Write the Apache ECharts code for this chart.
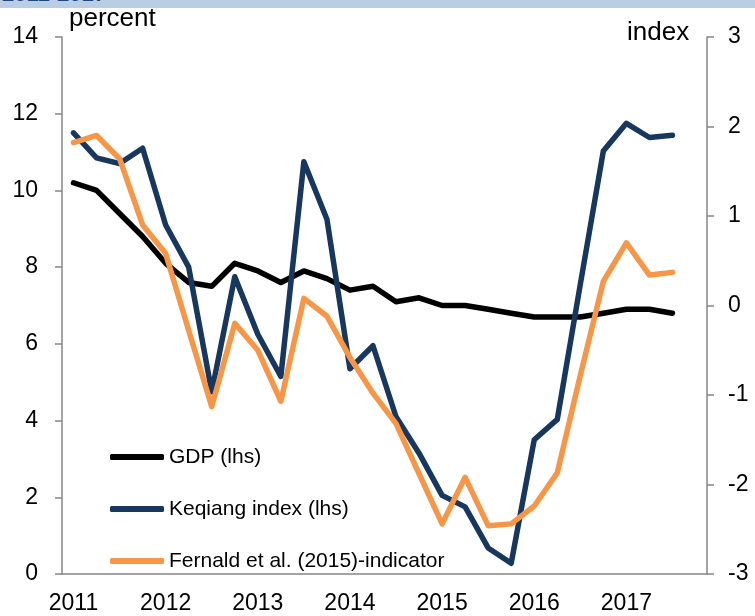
<!DOCTYPE html>
<html>
<head>
<meta charset="utf-8">
<script src="https://cdn.jsdelivr.net/npm/echarts@6/dist/echarts.min.js"></script>
<style>
  html, body { margin: 0; padding: 0; background: #fff; }
  #band { position: absolute; left: 0; top: 0; width: 755px; height: 8px; background: #b9cde5; overflow: hidden; z-index: 2; }
  #band span { position: absolute; left: 2px; top: -19px; font: bold 22px "Liberation Sans", Arial, sans-serif; color: #1f497d; }
  #chart { width: 755px; height: 616px; }
</style>
</head>
<body>
<div id="band"><span>2011-2017</span></div>
<div id="chart"></div>
<script>
// quarters 2011Q1 .. 2017Q4 (last one has no data)
var years = ['2011', '2012', '2013', '2014', '2015', '2016', '2017'];
var quarters = [];
years.forEach(function(y){ for(var q=1;q<=4;q++) quarters.push(y + 'Q' + q); });

// percent, lhs
var gdp = [10.2, 10.0, 9.4, 8.8, 8.1, 7.6, 7.5, 8.1, 7.9, 7.6, 7.9, 7.7, 7.4, 7.5,
           7.1, 7.2, 7.0, 7.0, 6.9, 6.8, 6.7, 6.7, 6.7, 6.8, 6.9, 6.9, 6.8];
// percent, lhs
var keqiang = [11.5, 10.85, 10.7, 11.1, 9.1, 8.0, 4.75, 7.75, 6.25, 5.15, 10.75, 9.25, 5.35, 5.95,
               4.1, 3.15, 2.05, 1.75, 0.68, 0.28, 3.5, 4.03, 7.55, 11.03, 11.75, 11.38, 11.44];
// index, rhs
var fernald = [1.82, 1.9, 1.64, 0.9, 0.58, -0.28, -1.13, -0.2, -0.5, -1.07, 0.08, -0.12, -0.58, -0.98,
               -1.32, -1.88, -2.44, -1.92, -2.46, -2.44, -2.24, -1.87, -0.78, 0.27, 0.7, 0.34, 0.37];

var font = '"Liberation Sans", Arial, sans-serif';
var axisGrey = '#868686';

var chart = echarts.init(document.getElementById('chart'));

chart.setOption({
  animation: false,
  grid: { left: 62, right: 48, top: 37, bottom: 42 },
  legend: {
    orient: 'vertical',
    left: 105, top: 441,
    itemWidth: 54, itemHeight: 6, itemGap: 30,
    icon: 'roundRect',
    textStyle: { fontFamily: font, fontSize: 21, color: '#000', lineHeight: 22 },
    data: ['GDP (lhs)', 'Keqiang index (lhs)', 'Fernald et al. (2015)-indicator']
  },
  graphic: [
    { type: 'text', left: 69, top: 6, style: { text: 'percent', font: '26px ' + font, fill: '#000' } },
    { type: 'text', left: 627, top: 20, style: { text: 'index', font: '26px ' + font, fill: '#000' } }
  ],
  xAxis: {
    type: 'category',
    data: quarters,
    boundaryGap: true,
    axisLine: { lineStyle: { color: axisGrey, width: 1.5 } },
    axisTick: { interval: 3, length: 7, lineStyle: { color: axisGrey, width: 1.5 } },
    axisLabel: {
      interval: 3, margin: 18, color: '#000', fontFamily: font, fontSize: 23,
      formatter: function(v){ return v.slice(0, 4); }
    },
    splitLine: { show: false }
  },
  yAxis: [
    {
      type: 'value', min: 0, max: 14, interval: 2, position: 'left',
      axisLine: { show: true, lineStyle: { color: axisGrey, width: 1.5 } },
      axisTick: { show: true, length: 7, lineStyle: { color: axisGrey, width: 1.5 } },
      axisLabel: { margin: 24, color: '#000', fontFamily: font, fontSize: 23 },
      splitLine: { show: false }
    },
    {
      type: 'value', min: -3, max: 3, interval: 1, position: 'right',
      axisLine: { show: true, lineStyle: { color: axisGrey, width: 1.5 } },
      axisTick: { show: true, length: 7, lineStyle: { color: axisGrey, width: 1.5 } },
      axisLabel: { margin: 21, color: '#000', fontFamily: font, fontSize: 23 },
      splitLine: { show: false }
    }
  ],
  series: [
    {
      name: 'GDP (lhs)', type: 'line', yAxisIndex: 0, data: gdp,
      symbol: 'none', color: '#000',
      lineStyle: { width: 5.5, color: '#000', cap: 'round', join: 'round' }
    },
    {
      name: 'Keqiang index (lhs)', type: 'line', yAxisIndex: 0, data: keqiang,
      symbol: 'none', color: '#17375e',
      lineStyle: { width: 5.5, color: '#17375e', cap: 'round', join: 'round' }
    },
    {
      name: 'Fernald et al. (2015)-indicator', type: 'line', yAxisIndex: 1, data: fernald,
      symbol: 'none', color: '#f79646',
      lineStyle: { width: 5.5, color: '#f79646', cap: 'round', join: 'round' }
    }
  ]
});
</script>
</body>
</html>
